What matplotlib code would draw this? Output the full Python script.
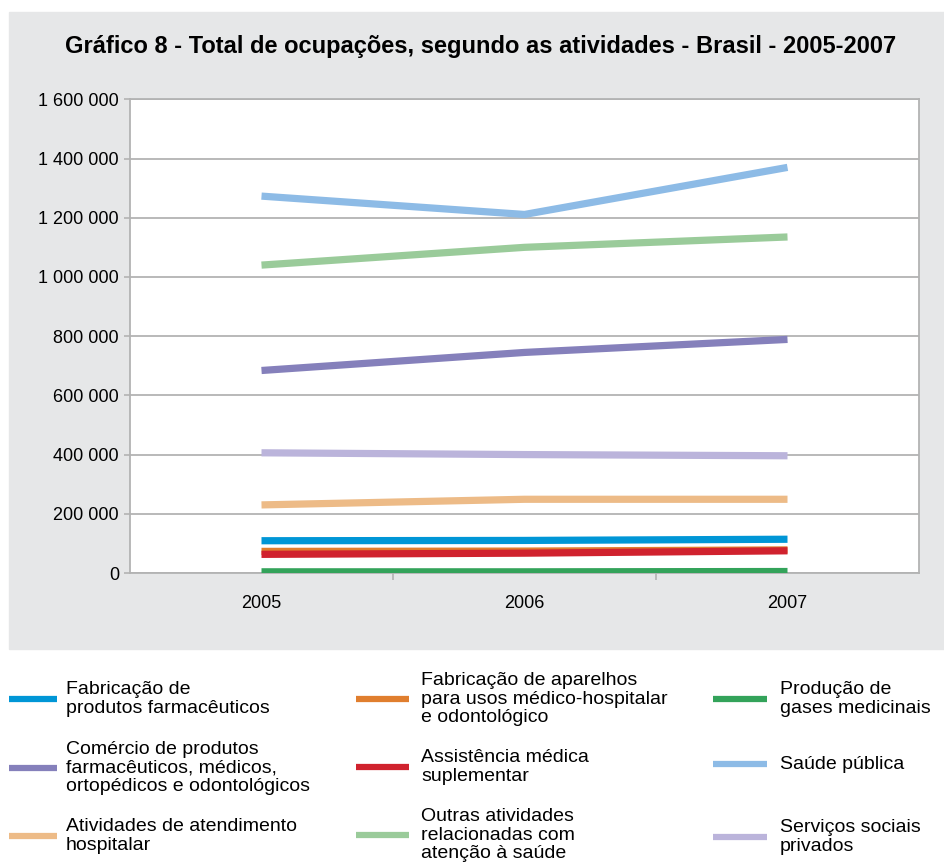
import numpy as np
import matplotlib.pyplot as plt
from matplotlib.patches import Rectangle
from matplotlib.lines import Line2D

plt.rcParams['font.family'] = ['Liberation Sans', 'DejaVu Sans']

anos = ['2005', '2006', '2007']

# total de ocupações por atividade
fab_farmaceuticos = [109000, 110000, 114000]
fab_aparelhos = [73000, 74000, 78000]
producao_gases = [4000, 4000, 5000]
comercio_produtos = [684000, 745000, 789000]
assistencia_medica = [63000, 67000, 75000]
saude_publica = [1273000, 1211000, 1370000]
atendimento_hospitalar = [230000, 249000, 249000]
outras_atividades = [1040000, 1100000, 1135000]
servicos_sociais = [406000, 400000, 396000]

series = [
    ('Fabricação de\nprodutos farmacêuticos', fab_farmaceuticos, '#0096d6'),
    ('Comércio de produtos\nfarmacêuticos, médicos,\nortopédicos e odontológicos', comercio_produtos, '#8580bb'),
    ('Atividades de atendimento\nhospitalar', atendimento_hospitalar, '#edbb87'),
    ('Fabricação de aparelhos\npara usos médico-hospitalar\ne odontológico', fab_aparelhos, '#e07e2e'),
    ('Assistência médica\nsuplementar', assistencia_medica, '#d0222e'),
    ('Outras atividades\nrelacionadas com\natenção à saúde', outras_atividades, '#9acb9a'),
    ('Produção de\ngases medicinais', producao_gases, '#33a35a'),
    ('Saúde pública', saude_publica, '#8dbbe6'),
    ('Serviços sociais\nprivados', servicos_sociais, '#bbb4db'),
]

W, H = 944, 863
fig = plt.figure(figsize=(W / 100, H / 100), dpi=100)

# painel cinza atrás do gráfico
fig.patches.append(Rectangle((9 / W, 1 - 649 / H), 1, (649 - 12) / H,
                             transform=fig.transFigure, color='#e6e7e8', zorder=-1))

ax = fig.add_axes([130 / W, 1 - 573 / H, (919 - 130) / W, (573 - 99.3) / H])
ax.set_zorder(2)
ax.set_facecolor('white')

x = np.arange(len(anos))
# ordem de desenho: as linhas de baixo por cima
ordem = [3, 4, 0, 6, 2, 8, 1, 5, 7]
for i in ordem:
    nome, valores, cor = series[i]
    ax.plot(x, valores, color=cor, lw=5.2, solid_capstyle='butt', zorder=3)

ax.set_xlim(-0.5, 2.5)
ax.set_ylim(0, 1600000)
yt = np.arange(0, 1600001, 200000)
ax.set_yticks(yt)
ax.set_yticklabels(['{:,}'.format(v).replace(',', ' ') for v in yt], fontsize=13)
ax.set_xticks(x)
ax.set_xticklabels(anos, fontsize=13)
ax.set_xticks([0.5, 1.5], minor=True)
ax.tick_params(axis='x', which='major', length=0, pad=16)
ax.tick_params(axis='x', which='minor', length=5, color='#b3b3b3', width=1.2)
ax.tick_params(axis='y', length=4, color='#b3b3b3', width=1.2, pad=4)
ax.grid(axis='y', color='#b3b3b3', lw=1.3, zorder=1)
for s in ax.spines.values():
    s.set_color('#b3b3b3')
    s.set_linewidth(1.3)

fig.text(481 / W, 1 - 47 / H,
         'Gráfico 8 - Total de ocupações, segundo as atividades - Brasil - 2005-2007',
         ha='center', va='center', fontsize=17, fontweight='bold')

# legenda em três colunas
col_x = [(9, 57, 66), (356, 409, 421), (713, 767, 780)]
lin_y = [[699, 768, 836], [699, 767, 835], [699, 764, 837]]
for k, (nome, valores, cor) in enumerate(series):
    c, r = k // 3, k % 3
    x0, x1, xt = col_x[c]
    yy = 1 - lin_y[c][r] / H
    fig.add_artist(Line2D([x0 / W, x1 / W], [yy, yy], color=cor, lw=4.5,
                          transform=fig.transFigure, solid_capstyle='butt'))
    fig.text(xt / W, yy, nome, ha='left', va='center', fontsize=14,
             linespacing=1.15)

fig.savefig('out.png', dpi=100)
